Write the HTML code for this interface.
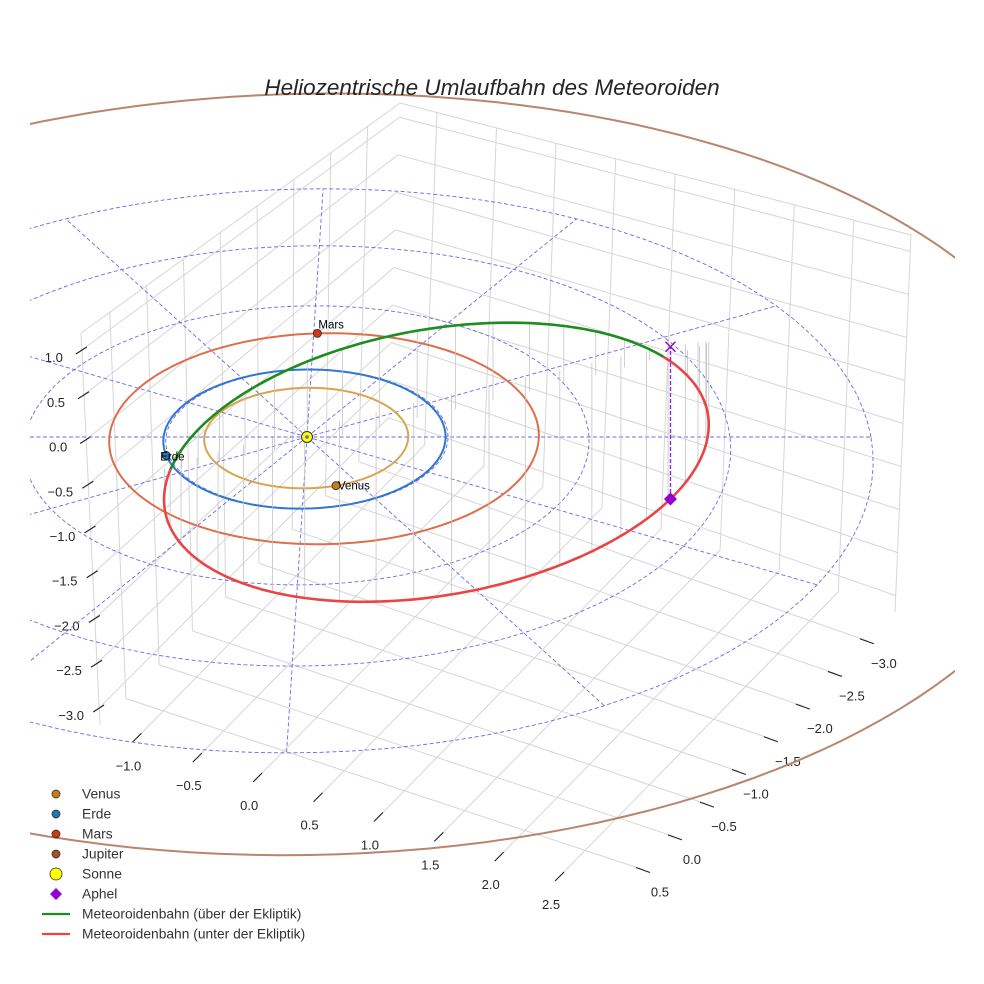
<!DOCTYPE html>
<html><head><meta charset="utf-8"><style>
html,body{margin:0;padding:0;background:#fff}
svg{display:block;font-family:"Liberation Sans",sans-serif}
</style></head><body>
<svg id="chart" width="984" height="984" viewBox="0 0 984 984" xmlns="http://www.w3.org/2000/svg">
<defs><clipPath id="plotclip"><rect x="30" y="0" width="925" height="984"/></clipPath></defs>
<rect x="0" y="0" width="984" height="984" fill="#fff"/>
<g id="grid"></g>
<g id="ticks"></g>
<g id="plot" clip-path="url(#plotclip)"></g>
<text x="492" y="95" text-anchor="middle" font-size="22.5" font-style="italic" fill="#262626">Heliozentrische Umlaufbahn des Meteoroiden</text>
<g id="legend"></g>
</svg>
<script>
// ---- data ----
const xTicks=[-1.0,-0.5,0.0,0.5,1.0,1.5,2.0,2.5];
const yTicks=[0.5,0.0,-0.5,-1.0,-1.5,-2.0,-2.5,-3.0];
const zTicks=[1.0,0.5,0.0,-0.5,-1.0,-1.5,-2.0,-2.5,-3.0];
const planetNames=['Venus','Erde','Mars','Jupiter'];
const planetA=[0.723,1.0,1.524,5.45];
const planetE=[0.007,0.017,0.085,0.065];
const planetPeri=[0,0,200,-95];
const planetAngle=[-72,195,89,10];
const ringRadii=[1,2,3,4];
const spokeAngles=[0,30,60,90,120,150,180,210,240,270,300,330];
const meteorCenter=[0.97,0.485,-0.66];
const meteorA=[1.91,0.945,-0.66];
const meteorB=[0.42,0.086,1.52];
const aphelionT=-19;
const legendLabels=['Venus','Erde','Mars','Jupiter','Sonne','Aphel','Meteoroidenbahn (über der Ekliptik)','Meteoroidenbahn (unter der Ekliptik)'];

const NS='http://www.w3.org/2000/svg';
function mk(tag,attrs,parent){const e=document.createElementNS(NS,tag);for(const k in attrs)e.setAttribute(k,attrs[k]);parent.appendChild(e);return e;}
const X0=-1.31,X1=2.98,Y0=-3.44,Y1=0.89,Z0=-3.19,Z1=1.19;
const CB={'000':[388,432],'100':[895,612],'010':[100,725],'110':[618,895],'001':[400,103],'101':[911,235],'011':[81,333],'111':[618,470]};
function lerp(a,b,t){return [a[0]+(b[0]-a[0])*t,a[1]+(b[1]-a[1])*t];}
function projB(x,y,z){const fx=(x-X0)/(X1-X0),fy=(y-Y0)/(Y1-Y0),fz=(z-Z0)/(Z1-Z0);
 const b=lerp(lerp(CB['000'],CB['100'],fx),lerp(CB['010'],CB['110'],fx),fy);
 const t=lerp(lerp(CB['001'],CB['101'],fx),lerp(CB['011'],CB['111'],fx),fy);
 return lerp(b,t,fz);}
function projE(U,V,Z){const w=1+0.03*V;return [307+(141*U+4.5*V)/w,437-(69.5*V+89*Z)/w];}
function polar(a,e,peri,deg){const th=deg*Math.PI/180;const r=a*(1-e*e)/(1+e*Math.cos(th-peri*Math.PI/180));return [r*Math.cos(th),r*Math.sin(th)];}
function pathOf(pts){return pts.map((p,i)=>(i?'L':'M')+p[0].toFixed(1)+' '+p[1].toFixed(1)).join(' ');}

const grid=document.getElementById('grid');
const G='#d6d6d6';
function gline(a,b,name){const l=mk('line',{x1:a[0],y1:a[1],x2:b[0],y2:b[1],stroke:G,'stroke-width':1},grid);
 
 }
xTicks.forEach(x=>{gline(projB(x,Y0,Z0),projB(x,Y1,Z0),'floor-gridline-x');gline(projB(x,Y0,Z0),projB(x,Y0,Z1),'wall-gridline-x');});
yTicks.forEach(y=>{gline(projB(X0,y,Z0),projB(X1,y,Z0),'floor-gridline-y');gline(projB(X0,y,Z0),projB(X0,y,Z1),'wall-gridline-y');});
zTicks.forEach(z=>{gline(projB(X0,Y0,z),projB(X0,Y1,z),'wall-gridline-z');gline(projB(X0,Y0,z),projB(X1,Y0,z),'wall-gridline-z');});
[[projB(X0,Y1,Z1),projB(X0,Y0,Z1)],[projB(X0,Y0,Z1),projB(X1,Y0,Z1)],[projB(X1,Y0,Z1),projB(X1,Y0,Z0)],[projB(X0,Y1,Z1),projB(X0,Y1,Z0)]].forEach(s=>gline(s[0],s[1],'pane-edge'));

const ticks=document.getElementById('ticks');
function tick(p,d1,d2,lo,label,name){
 const l=mk('line',{x1:p[0]+d1[0],y1:p[1]+d1[1],x2:p[0]+d2[0],y2:p[1]+d2[1],stroke:'#222','stroke-width':1.1},ticks);
 
 
 const t=mk('text',{x:p[0]+lo[0],y:p[1]+lo[1]+5,'text-anchor':'middle','font-size':13,fill:'#262626'},ticks);
 t.textContent=label.replace('-','−');
 
 }
zTicks.forEach(z=>tick(projB(X0,Y1,z),[-6,4],[5,-3],[-28,7],z.toFixed(1),'z-axis'));
xTicks.forEach(x=>tick(projB(x,Y1,Z0),[-5,5],[4,-4],[-9,28],x.toFixed(1),'x-axis'));
yTicks.forEach(y=>tick(projB(X1,y,Z0),[-7,-2],[7,3],[17,22],y.toFixed(1),'y-axis'));

const plot=document.getElementById('plot');
const BL='#6a6ae6';
ringRadii.forEach(r=>{const pts=[];for(let d=0;d<=360;d+=3){pts.push(projE(r*Math.cos(d*Math.PI/180),r*Math.sin(d*Math.PI/180),0));}
 const p=mk('path',{d:pathOf(pts),fill:'none',stroke:BL,'stroke-width':0.9,'stroke-dasharray':'4 2.5'},plot);
 
 });
spokeAngles.forEach(a=>{const R=ringRadii[ringRadii.length-1];const e=projE(R*Math.cos(a*Math.PI/180),R*Math.sin(a*Math.PI/180),0);const s=projE(0,0,0);
 const l=mk('line',{x1:s[0],y1:s[1],x2:e[0],y2:e[1],stroke:BL,'stroke-width':0.9,'stroke-dasharray':'4 2.5'},plot);
 
 });
const orbitColors=['#d9a44e','#2f77cf','#dd6f4a','#b8866d'];
const markerColors=['#c77c18','#1f77b4','#cc3a11','#a0522d'];
planetNames.forEach((n,i)=>{const pts=[];for(let d=0;d<=360;d+=2){const q=polar(planetA[i],planetE[i],planetPeri[i],d);pts.push(projE(q[0],q[1],0));}
 const p=mk('path',{d:pathOf(pts),fill:'none',stroke:orbitColors[i],'stroke-width':2},plot);
 
 });
function met(tdeg){const t=tdeg*Math.PI/180;const c=Math.cos(t),s=Math.sin(t);return [0,1,2].map(k=>meteorCenter[k]+meteorA[k]*c+meteorB[k]*s);}
for(let d=-180;d<180;d+=8){const m=met(d);const a=projE(m[0],m[1],m[2]),b=projE(m[0],m[1],0);
 const l=mk('line',{x1:a[0],y1:a[1],x2:b[0],y2:b[1],stroke:'#c4c4c4','stroke-width':0.8},plot);
 
 }
let seg=[],segUp=null;
function flush(){if(seg.length>1){const p=mk('path',{d:pathOf(seg),fill:'none',stroke:segUp?'#1e8c1e':'#e84545','stroke-width':2.6},plot);
 
 }}
for(let d=-180;d<=180;d+=1){const m=met(d);const up=m[2]>=0;const pt=projE(m[0],m[1],m[2]);
 if(segUp===null)segUp=up;
 if(up!==segUp){seg.push(pt);flush();seg=[pt];segUp=up;}else seg.push(pt);}
flush();
const am=met(aphelionT);const ap=projE(am[0],am[1],am[2]),af=projE(am[0],am[1],0);
let el=mk('line',{x1:ap[0],y1:ap[1],x2:af[0],y2:af[1],stroke:'#8a2be2','stroke-width':1.4,'stroke-dasharray':'4 2'},plot);


el=mk('path',{d:`M${af[0]-5} ${af[1]-5}L${af[0]+5} ${af[1]+5}M${af[0]-5} ${af[1]+5}L${af[0]+5} ${af[1]-5}`,stroke:'#9400d3','stroke-width':1.4},plot);


el=mk('path',{d:`M${ap[0]} ${ap[1]-6.5}L${ap[0]+6.5} ${ap[1]}L${ap[0]} ${ap[1]+6.5}L${ap[0]-6.5} ${ap[1]}Z`,fill:'#9400d3'},plot);


const sp=projE(0,0,0);
el=mk('circle',{cx:sp[0],cy:sp[1],r:5.5,fill:'#ffff00',stroke:'#333','stroke-width':1},plot);


el=mk('circle',{cx:sp[0],cy:sp[1],r:1.8,fill:'#5a6fd0'},plot);


const labelOff=[[2,4],[-6,5],[1,-5],[4,-4]];
planetNames.forEach((n,i)=>{const q=polar(planetA[i],planetE[i],planetPeri[i],planetAngle[i]);const p=projE(q[0],q[1],0);
 const c=mk('circle',{cx:p[0],cy:p[1],r:4,fill:markerColors[i],stroke:'#222','stroke-width':0.8},plot);
 
 
 const t=mk('text',{x:p[0]+labelOff[i][0],y:p[1]+labelOff[i][1],'font-size':11.5,fill:'#000'},plot);
 t.textContent=n;
 
 });
const lg=document.getElementById('legend');
legendLabels.forEach((lab,i)=>{const y=794+i*20;let m;
 if(i<4){m=mk('circle',{cx:56,cy:y,r:4,fill:markerColors[i],stroke:'#222','stroke-width':0.7},lg);}
 else if(i===4){m=mk('circle',{cx:56,cy:y,r:6,fill:'#ffff00',stroke:'#333','stroke-width':0.8},lg);}
 else if(i===5){m=mk('path',{d:`M56 ${y-6}L62 ${y}L56 ${y+6}L50 ${y}Z`,fill:'#9400d3'},lg);}
 else{m=mk('line',{x1:42,y1:y,x2:70,y2:y,stroke:i===6?'#1e8c1e':'#e84545','stroke-width':2.2},lg);}
 
 
 const t=mk('text',{x:82,y:y+4.5,'font-size':13.8,fill:'#333'},lg);
 t.textContent=lab;
 
 });
</script>
</body></html>
